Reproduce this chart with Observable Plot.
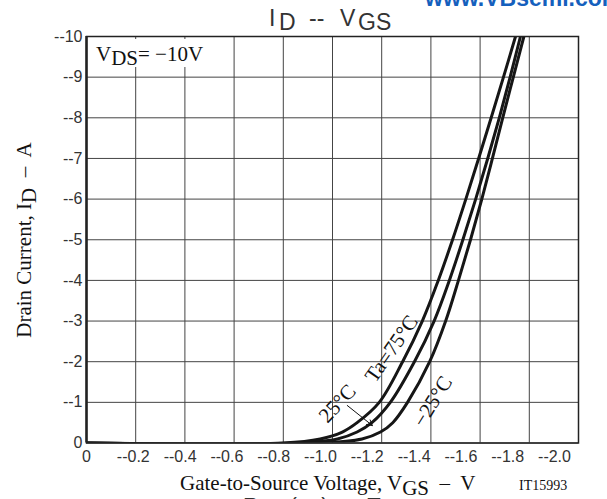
<!DOCTYPE html>
<html><head><meta charset="utf-8">
<script src="https://cdn.jsdelivr.net/npm/d3@7"></script>
<script src="https://cdn.jsdelivr.net/npm/@observablehq/plot@0.6"></script>
<style>
body{margin:0;background:#fff}
#wrap{position:relative;width:607px;height:499px;overflow:hidden;background:#fff}
#wrap > svg{position:absolute;left:0;top:0}
</style></head><body><div id="wrap"></div>
<script>
// Drain current values (A), shared by the three curves
const current = [0, 0, -0.1, -0.27, -0.5, -1, -2, -3, -4, -5, -6, -7, -8, -9, -10];
// Gate-source voltage (V) for each temperature
const v75  = [0, -0.80, -0.95, -1.04, -1.10, -1.19, -1.285, -1.365, -1.430, -1.488, -1.542, -1.594, -1.645, -1.695, -1.744];
const v25  = [0, -0.85, -1.02, -1.10, -1.16, -1.235, -1.333, -1.413, -1.475, -1.530, -1.582, -1.631, -1.678, -1.722, -1.764];
const vm25 = [0, -0.95, -1.12, -1.195, -1.245, -1.305, -1.395, -1.460, -1.512, -1.561, -1.607, -1.650, -1.692, -1.735, -1.778];
const seriesNames = ["75", "25", "-25"];

const xTicks = [0, -0.2, -0.4, -0.6, -0.8, -1.0, -1.2, -1.4, -1.6, -1.8, -2.0];
const xTickLabels = ["0", "--0.2", "--0.4", "--0.6", "--0.8", "--1.0", "--1.2", "--1.4", "--1.6", "--1.8", "--2.0"];
const yTicks = [0, -1, -2, -3, -4, -5, -6, -7, -8, -9, -10];
const yTickLabels = ["0", "--1", "--2", "--3", "--4", "--5", "--6", "--7", "--8", "--9", "--10"];

// curve annotations
const labelText = ["Ta=75°C", "25°C", "\u221225°C"];
const labelV = [-1.240, -1.020, -1.407];
const labelI = [-2.32, -0.97, -1.02];
const labelAngle = [-55, -47, -58];
// arrow pointing at 25°C curve
const arrowV = [-1.060, -1.162];
const arrowI = [-0.923, -0.43];

const rows = [];
[v75, v25, vm25].forEach((vs, s) => vs.forEach((v, k) => rows.push({series: seriesNames[s], v, i: current[k]})));
const xLabelMap = new Map(xTicks.map((t, k) => [t, xTickLabels[k]]));
const yLabelMap = new Map(yTicks.map((t, k) => [t, yTickLabels[k]]));

const sansFont = "'Liberation Sans', Arial, sans-serif";
const serifFont = "'Liberation Serif', 'Times New Roman', serif";

const main = Plot.plot({
  width: 607, height: 499,
  marginLeft: 86, marginRight: 29, marginTop: 36, marginBottom: 56.5,
  x: {domain: [0, -2], axis: null},
  y: {domain: [0, -10], axis: null},
  style: {fontFamily: sansFont, fontSize: "16px", color: "#333", background: "transparent"},
  marks: [
    Plot.gridX(xTicks, {stroke: "#444", strokeOpacity: 1, strokeWidth: 1}),
    Plot.gridY(yTicks, {stroke: "#444", strokeOpacity: 1, strokeWidth: 1}),
    Plot.axisY(yTicks, {tickSize: 0, tickPadding: 4, tickFormat: d => yLabelMap.get(d), label: null}),
    Plot.line(rows, {x: "v", y: "i", z: "series", stroke: "#161616", strokeWidth: 3, curve: "catmull-rom", clip: true}),
    ...labelText.map((t, k) => Plot.text([t], {x: () => labelV[k], y: () => labelI[k], text: d => d,
      rotate: labelAngle[k], fontFamily: serifFont, fontSize: 21, fill: "#111"})),
    Plot.arrow([0], {x1: () => arrowV[0], y1: () => arrowI[0], x2: () => arrowV[1], y2: () => arrowI[1],
      stroke: "#111", strokeWidth: 1, headLength: 9}),
    Plot.frame({stroke: "#222", strokeWidth: 1.5}),
    Plot.ruleX([0], {stroke: "#222", strokeWidth: 2.5})
  ]
});

// x tick labels (spaced a bit tighter than the grid, as in the original)
const xlabels = Plot.plot({
  width: 607, height: 499,
  marginLeft: 86, marginRight: 53, marginTop: 36, marginBottom: 56.5,
  x: {domain: [0, -2], axis: null},
  y: {domain: [0, 1], axis: null},
  style: {fontFamily: sansFont, fontSize: "16px", color: "#333", background: "transparent"},
  marks: [
    Plot.axisX(xTicks, {tickSize: 0, tickPadding: 8, tickFormat: d => xLabelMap.get(d), label: null})
  ]
});

const wrap = document.getElementById("wrap");
wrap.appendChild(main);
wrap.appendChild(xlabels);

const ns = "http://www.w3.org/2000/svg";
const over = document.createElementNS(ns, "svg");
over.setAttribute("width", 607);
over.setAttribute("height", 499);
over.innerHTML = `
<rect x="88" y="39" width="125" height="28" fill="#fff"/>
<text x="96" y="61" font-family="${serifFont}" font-size="21" fill="#111" style="white-space:pre">V<tspan dy="4">DS</tspan><tspan dy="-4">= \u221210V</tspan></text>
<g font-family="${sansFont}" font-size="23" fill="#333">
  <text x="269" y="26">I</text>
  <text x="279" y="30">D</text>
  <text x="309" y="26">--</text>
  <text x="340" y="26">V</text>
  <text x="358" y="30">GS</text>
</g>
<text x="425" y="6" font-family="${sansFont}" font-size="23" font-weight="bold" fill="#1560bd">www.VBsemi.com</text>
<text transform="translate(31,240) rotate(-90)" text-anchor="middle" font-family="${serifFont}" font-size="21" fill="#111" style="white-space:pre">Drain Current, I<tspan dy="5">D</tspan><tspan dy="-5">  \u2013  A</tspan></text>
<text x="180" y="490" font-family="${serifFont}" font-size="21" fill="#111" style="white-space:pre">Gate-to-Source Voltage, V<tspan dy="5">GS</tspan><tspan dy="-5">  \u2013  V</tspan></text>
<text x="519" y="490" font-family="${serifFont}" font-size="14" fill="#111">IT15993</text>
<text x="243" y="513" font-family="${sansFont}" font-size="22" fill="#333" style="white-space:pre">R<tspan dy="4">DS</tspan><tspan dy="-4">(on)  --  Ta</tspan></text>
`;
wrap.appendChild(over);
</script>
</body></html>
